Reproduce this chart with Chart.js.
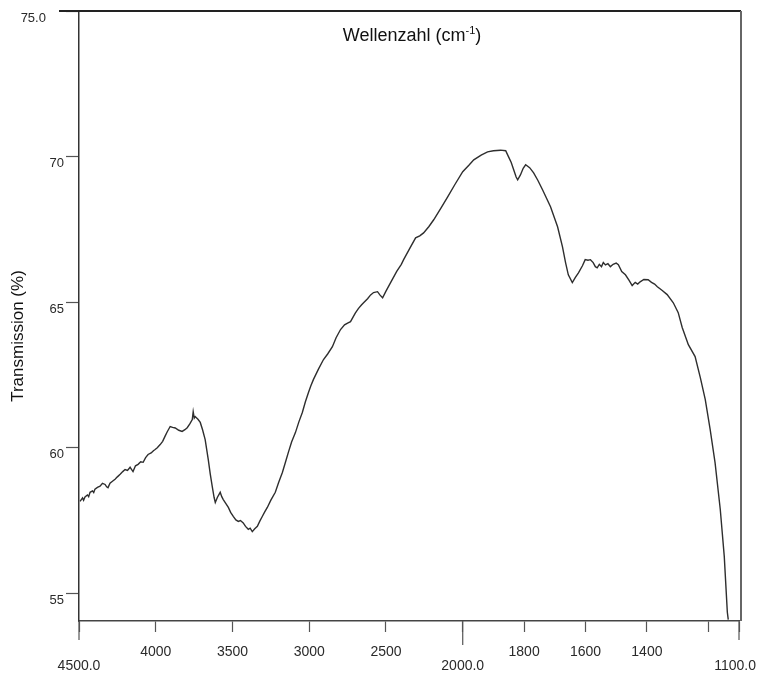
<!DOCTYPE html>
<html>
<head>
<meta charset="utf-8">
<title>Transmission</title>
<script src="https://cdn.jsdelivr.net/npm/chart.js@4.4.1/dist/chart.umd.min.js"></script>
<style>
  html, body { margin: 0; padding: 0; background: #fff; }
  #wrap { width: 758px; height: 674px; }
</style>
</head>
<body>
<div id="wrap"><canvas id="spectrum"></canvas></div>
<script>
// Wavenumbers (cm-1), recorded from high to low
const wavenumbers = [
    4493, 4477, 4470, 4461, 4445, 4437, 4428, 4412, 4404, 4396, 4380, 4363, 4347, 4330, 4320, 4311,
    4298, 4282, 4265, 4250, 4232, 4215, 4200, 4184, 4167, 4158, 4148, 4132, 4115, 4098, 4082, 4066,
    4050, 4030, 4015, 4004, 3990, 3971, 3955, 3939, 3925, 3906, 3890, 3873, 3850, 3828, 3810, 3795,
    3778, 3762, 3756, 3749, 3743, 3725, 3710, 3695, 3678, 3658, 3645, 3632, 3620, 3612, 3598, 3580,
    3570, 3560, 3545, 3527, 3512, 3495, 3478, 3462, 3448, 3430, 3415, 3397, 3385, 3371, 3355, 3338,
    3322, 3306, 3290, 3273, 3250, 3221, 3200, 3175, 3155, 3136, 3115, 3090, 3068, 3045, 3025, 3005,
    2990, 2973, 2940, 2907, 2880, 2849, 2825, 2796, 2770, 2750, 2731, 2700, 2680, 2660, 2646, 2620,
    2600, 2581, 2555, 2540, 2522, 2500, 2470, 2430, 2400, 2385, 2345, 2307, 2280, 2255, 2220, 2189,
    2140, 2098, 2050, 2000, 1980, 1964, 1940, 1919, 1900, 1877, 1860, 1851, 1842, 1834, 1826, 1821,
    1812, 1803, 1795, 1782, 1769, 1755, 1740, 1714, 1691, 1675, 1665, 1656, 1643, 1633, 1623, 1610,
    1601, 1592, 1584, 1575, 1568, 1562, 1555, 1548, 1542, 1535, 1527, 1519, 1510, 1500, 1493, 1482,
    1470, 1458, 1448, 1438, 1430, 1422, 1410, 1396, 1385, 1375, 1366, 1350, 1334, 1314, 1298, 1285,
    1265, 1243, 1226, 1210, 1194, 1178, 1161, 1148, 1138, 1135
];

// Transmission (%) at each wavenumber
const transmission = [
    58.16, 58.28, 58.20, 58.31, 58.38, 58.32, 58.47, 58.52, 58.46, 58.58, 58.64, 58.68, 58.78, 58.74, 58.66, 58.63,
    58.78, 58.85, 58.92, 59.00, 59.09, 59.18, 59.25, 59.22, 59.33, 59.26, 59.18, 59.38, 59.43, 59.52, 59.50, 59.66,
    59.77, 59.82, 59.90, 59.94, 60.00, 60.11, 60.22, 60.40, 60.55, 60.73, 60.70, 60.68, 60.60, 60.56, 60.62, 60.69,
    60.82, 60.97, 61.24, 61.02, 61.07, 60.98, 60.87, 60.62, 60.28, 59.60, 59.10, 58.67, 58.30, 58.12, 58.30, 58.47,
    58.32, 58.22, 58.10, 57.95, 57.78, 57.64, 57.52, 57.47, 57.50, 57.42, 57.30, 57.20, 57.24, 57.12, 57.22, 57.30,
    57.48, 57.64, 57.80, 57.95, 58.20, 58.47, 58.80, 59.15, 59.50, 59.84, 60.20, 60.52, 60.88, 61.21, 61.58, 61.90,
    62.12, 62.34, 62.70, 63.03, 63.22, 63.47, 63.78, 64.06, 64.22, 64.28, 64.33, 64.62, 64.78, 64.90, 64.98, 65.12,
    65.25, 65.33, 65.36, 65.25, 65.15, 65.38, 65.67, 66.06, 66.30, 66.46, 66.85, 67.21, 67.28, 67.38, 67.60, 67.83,
    68.25, 68.62, 69.05, 69.48, 69.70, 69.89, 70.05, 70.16, 70.20, 70.22, 70.20, 70.00, 69.80, 69.55, 69.30, 69.20,
    69.37, 69.60, 69.72, 69.62, 69.44, 69.18, 68.86, 68.28, 67.59, 66.90, 66.36, 65.94, 65.67, 65.85, 66.01, 66.25,
    66.46, 66.44, 66.46, 66.36, 66.22, 66.18, 66.30, 66.22, 66.36, 66.28, 66.32, 66.22, 66.30, 66.34, 66.29, 66.05,
    65.94, 65.75, 65.57, 65.68, 65.62, 65.70, 65.78, 65.77, 65.68, 65.62, 65.53, 65.40, 65.26, 64.98, 64.64, 64.13,
    63.54, 63.13, 62.41, 61.66, 60.63, 59.49, 57.88, 56.27, 54.35, 54.10
];

const xTickValues = [4500, 4000, 3500, 3000, 2500, 2000, 1800, 1600, 1400, 1200, 1100];
const xTickLabels = ['4500.0', '4000', '3500', '3000', '2500', '2000.0', '1800', '1600', '1400', '', '1100.0'];
const majorTicks = [4500, 2000, 1100];

const yTickValues = [55, 60, 65, 70, 75];
const yTickLabels = ['55', '60', '65', '70', '75.0'];

// The chart paper runs at double scale below 2000 cm-1
function axisPos(w) {
    return w >= 2000 ? 4500 - w : 2500 + 2 * (2000 - w);
}

const tickFont = { family: "'Liberation Sans', Arial, sans-serif", size: 14, lineHeight: '14px' };

// Box, longer marks at the range ends and the two titles
const framePlugin = {
    id: 'frame',
    afterDraw(chart) {
        const { ctx, chartArea: a, scales: { x } } = chart;
        ctx.save();

        ctx.strokeStyle = '#222';
        ctx.lineWidth = 2;
        ctx.beginPath();
        ctx.moveTo(a.left - 20, a.top);
        ctx.lineTo(a.right + 2, a.top);
        ctx.stroke();

        ctx.strokeStyle = '#666';
        ctx.beginPath();
        ctx.moveTo(a.right + 2, a.top);
        ctx.lineTo(a.right + 2, a.bottom);
        ctx.stroke();

        ctx.strokeStyle = '#555';
        ctx.lineWidth = 1.2;
        majorTicks.forEach(w => {
            const px = x.getPixelForValue(axisPos(w));
            const len = w === 2000 ? 24 : 19;
            ctx.beginPath();
            ctx.moveTo(px, a.bottom);
            ctx.lineTo(px, a.bottom + len);
            ctx.stroke();
        });

        // Wellenzahl (cm^-1) with a raised exponent
        ctx.fillStyle = '#111';
        ctx.textBaseline = 'alphabetic';
        ctx.textAlign = 'left';
        const mainFont = "18px 'Liberation Sans', Arial, sans-serif";
        const supFont = "11px 'Liberation Sans', Arial, sans-serif";
        ctx.font = mainFont;
        const w1 = ctx.measureText('Wellenzahl (cm').width;
        const w3 = ctx.measureText(')').width;
        ctx.font = supFont;
        const w2 = ctx.measureText('-1').width;
        let tx = (a.left + a.right) / 2 + 3 - (w1 + w2 + w3) / 2;
        const ty = a.top + 30;
        ctx.font = mainFont;
        ctx.fillText('Wellenzahl (cm', tx, ty);
        tx += w1;
        ctx.font = supFont;
        ctx.fillText('-1', tx, ty - 7);
        tx += w2;
        ctx.font = mainFont;
        ctx.fillText(')', tx, ty);

        // y axis title
        ctx.translate(18, (a.top + a.bottom) / 2 + 20);
        ctx.rotate(-Math.PI / 2);
        ctx.textAlign = 'center';
        ctx.textBaseline = 'middle';
        ctx.font = "17px 'Liberation Sans', Arial, sans-serif";
        ctx.fillText('Transmission (%)', 0, 0);

        ctx.restore();
    }
};

new Chart(document.getElementById('spectrum'), {
    type: 'line',
    data: {
        datasets: [{
            data: wavenumbers.map((w, i) => ({ x: axisPos(w), y: transmission[i] })),
            borderColor: '#2e2e2e',
            borderWidth: 1.4,
            pointRadius: 0,
            tension: 0,
            fill: false
        }]
    },
    options: {
        responsive: true,
        maintainAspectRatio: false,
        animation: false,
        layout: { padding: { top: 11, right: 19, left: 0, bottom: 0 } },
        plugins: { legend: { display: false }, tooltip: { enabled: false } },
        scales: {
            x: {
                type: 'linear',
                min: 0,
                max: axisPos(1100),
                afterBuildTicks: scale => { scale.ticks = xTickValues.map(w => ({ value: axisPos(w) })); },
                // keep the end labels from shrinking the plot box
                afterFit: scale => {
                    scale.height = 53;
                    scale.paddingLeft = 0;
                    scale.paddingRight = 0;
                },
                grid: { drawOnChartArea: false, tickLength: 11, tickColor: '#555', tickWidth: 1.2 },
                border: { color: '#444', width: 1.5 },
                ticks: {
                    maxRotation: 0,
                    autoSkip: false,
                    padding: 13,
                    color: '#2a2a2a',
                    font: tickFont,
                    // labels ending in .0 sit one line lower; the last one leans left to stay on the page
                    callback: (v, i) => {
                        let label = xTickLabels[i];
                        if (i === xTickLabels.length - 1) label += '  ';
                        return majorTicks.includes(xTickValues[i]) ? ['', label] : label;
                    }
                }
            },
            y: {
                min: 54.05,
                max: 75,
                afterBuildTicks: scale => { scale.ticks = yTickValues.map(v => ({ value: v })); },
                afterFit: scale => { scale.width = 79; },
                grid: { drawOnChartArea: false, tickLength: 13, tickColor: '#555', tickWidth: 1.2 },
                border: { color: '#333', width: 1.5 },
                ticks: {
                    padding: 2,
                    labelOffset: 7,
                    color: '#2a2a2a',
                    font: { family: "'Liberation Sans', Arial, sans-serif", size: 13 },
                    callback: (v, i) => i === yTickLabels.length - 1 ? yTickLabels[i] + '     ' : yTickLabels[i]
                }
            }
        }
    },
    plugins: [framePlugin]
});
</script>
</body>
</html>
